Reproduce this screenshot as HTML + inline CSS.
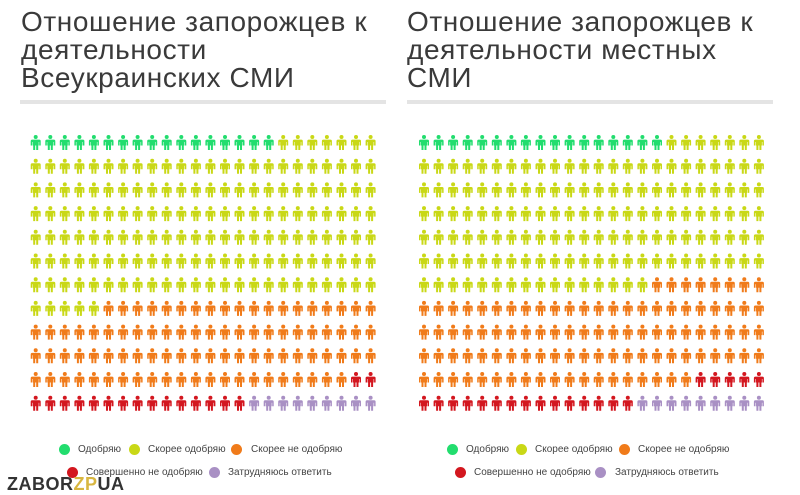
<!DOCTYPE html>
<html><head><meta charset="utf-8"><style>
html,body{margin:0;padding:0;background:#fff;width:800px;height:492px;overflow:hidden;font-family:"Liberation Sans","Noto Sans CJK SC",sans-serif}
.t{position:absolute;font-size:28px;line-height:28px;letter-spacing:0.6px;color:#3a3a3a;top:8px;white-space:nowrap}
.bar{position:absolute;top:100px;height:4px;background:#e4e4e4;width:366px}
.lg{position:absolute;font-size:10px;color:#444;white-space:nowrap}
.c{position:absolute;width:11px;height:11px;border-radius:50%}
</style></head><body>
<div class="t" style="left:21px">Отношение запорожцев к<br>деятельности<br>Всеукраинских СМИ</div>
<div class="bar" style="left:20px"></div>
<div class="t" style="left:407px">Отношение запорожцев к<br>деятельности местных<br>СМИ</div>
<div class="bar" style="left:407px"></div>
<svg id="s" width="800" height="492" style="position:absolute;left:0;top:0">
<defs><g id="p"><circle cx="5.5" cy="2" r="2"/><path d="M2 4.6h7q1.5 0 1.5 1.5V10.5h-1.5V7h-0.5v3.5H8V15H6V10.5H5V15H3V10.5h-0.5V7H2v3.5H0.5V6.1Q0.5 4.6 2 4.6z"/></g></defs>
</svg>
<div class="c" style="left:59px;top:444px;background:#22dd6e"></div><div class="lg" style="left:78px;top:444px">Одобряю</div>
<div class="c" style="left:129px;top:444px;background:#c9d816"></div><div class="lg" style="left:148px;top:444px">Скорее одобряю</div>
<div class="c" style="left:231px;top:444px;background:#f07b1a"></div><div class="lg" style="left:251px;top:444px">Скорее не одобряю</div>
<div class="c" style="left:67px;top:467px;background:#d3171f"></div><div class="lg" style="left:86px;top:467px">Совершенно не одобряю</div>
<div class="c" style="left:209px;top:467px;background:#a990c4"></div><div class="lg" style="left:228px;top:467px">Затрудняюсь ответить</div>
<div class="c" style="left:447px;top:444px;background:#22dd6e"></div><div class="lg" style="left:466px;top:444px">Одобряю</div>
<div class="c" style="left:516px;top:444px;background:#c9d816"></div><div class="lg" style="left:535px;top:444px">Скорее одобряю</div>
<div class="c" style="left:619px;top:444px;background:#f07b1a"></div><div class="lg" style="left:638px;top:444px">Скорее не одобряю</div>
<div class="c" style="left:455px;top:467px;background:#d3171f"></div><div class="lg" style="left:474px;top:467px">Совершенно не одобряю</div>
<div class="c" style="left:595px;top:467px;background:#a990c4"></div><div class="lg" style="left:615px;top:467px">Затрудняюсь ответить</div>
<div style="position:absolute;left:7px;top:474px;font-size:18px;font-weight:bold;color:#333;letter-spacing:0.5px">ZABOR<span style="color:#d8b640">ZP</span>UA</div>
<script>
var C={g:"#22dd6e",y:"#c9d816",o:"#f07b1a",r:"#d3171f",p:"#a990c4"};
function grid(x0,counts){
 var seq=[];counts.forEach(function(c){for(var i=0;i<c[1];i++)seq.push(c[0]);});
 var s=document.getElementById("s"),h="";
 for(var i=0;i<288;i++){var r=Math.floor(i/24),k=i%24;
  var x=x0+k*14.56-5.5,y=135+r*23.7;
  h+='<use href="#p" x="'+x.toFixed(1)+'" y="'+y.toFixed(1)+'" fill="'+C[seq[i]]+'"/>';}
 s.insertAdjacentHTML("beforeend",h);
}
grid(35.7,[["g",17],["y",7+6*24+5],["o",19+48+22],["r",2+15],["p",9]]);
grid(424,[["g",17],["y",7+5*24+16],["o",8+72+19],["r",5+15],["p",9]]);
</script>
</body></html>
